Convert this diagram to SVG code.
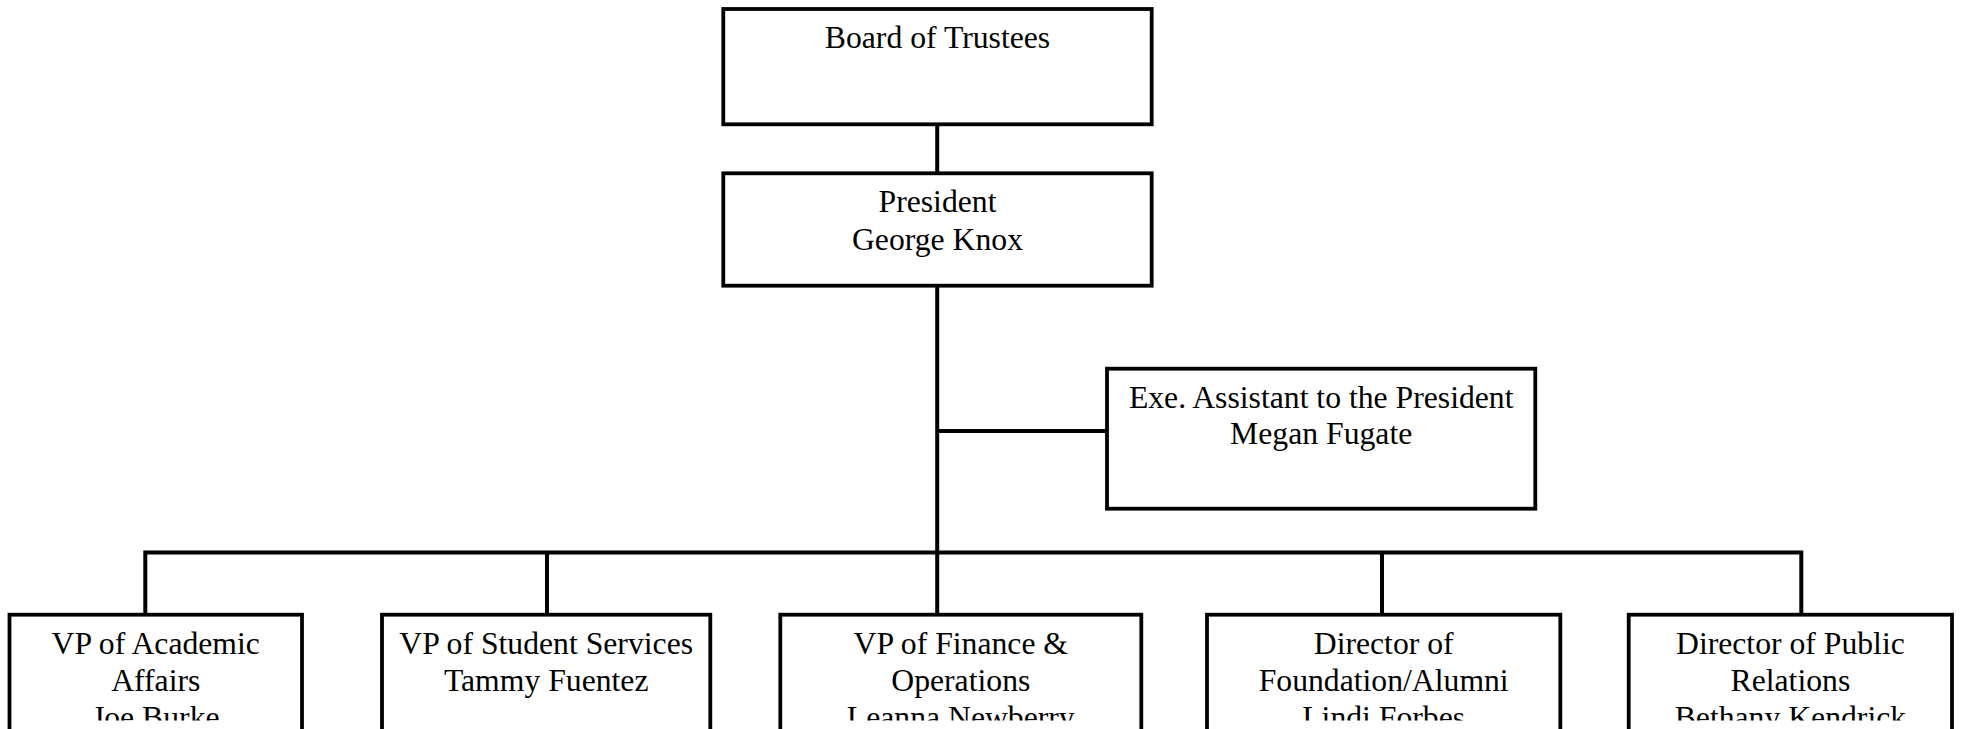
<svg xmlns="http://www.w3.org/2000/svg" width="1963" height="729" viewBox="0 0 1963 729">
<style>
.box{fill:#fff;stroke:#000;stroke-width:3.8}
.ln{fill:none;stroke:#000;stroke-width:4;stroke-linejoin:miter;stroke-linecap:butt}
text{font-family:"Liberation Serif","Times New Roman",serif;font-size:31.7px;fill:#000;text-anchor:middle}
</style>
<defs>
<clipPath id="cut"><rect x="0" y="0" width="1963" height="720.5"/></clipPath>
</defs>
<rect width="1963" height="729" fill="#fff"/>
<g id="connectors">
<path class="ln" d="M937.2,124.3 V173.3"/>
<path class="ln" d="M937.2,285.7 V552.5"/>
<path class="ln" d="M937.2,431 H1107"/>
<path class="ln" d="M145.3,614.7 V552.5 H1801.3 V614.7"/>
<path class="ln" d="M547,552.5 V614.7"/>
<path class="ln" d="M937.2,552.5 V614.7"/>
<path class="ln" d="M1382,552.5 V614.7"/>
</g>
<g id="board">
<rect class="box" x="723.3" y="9" width="428.4" height="115.3"/>
<text x="937.5" y="48.3">Board of Trustees</text>
</g>
<g id="president">
<rect class="box" x="723.3" y="173.3" width="428.4" height="112.4"/>
<text x="937.5" y="211.7">President</text>
<text x="937.5" y="250">George Knox</text>
</g>
<g id="assistant">
<rect class="box" x="1107" y="368.7" width="428.3" height="140"/>
<text x="1321.2" y="408.3">Exe. Assistant to the President</text>
<text x="1321.2" y="444.3">Megan Fugate</text>
</g>
<g id="vp-academic">
<rect class="box" x="9.5" y="614.7" width="292.5" height="150"/>
<g clip-path="url(#cut)">
<text x="155.75" y="653.5">VP of Academic</text>
<text x="155.75" y="690.5">Affairs</text>
<text x="155.75" y="727.5">Joe Burke</text>
</g>
</g>
<g id="vp-student">
<rect class="box" x="382" y="614.7" width="328.3" height="150"/>
<g clip-path="url(#cut)">
<text x="546.2" y="653.5">VP of Student Services</text>
<text x="546.2" y="690.5">Tammy Fuentez</text>
</g>
</g>
<g id="vp-finance">
<rect class="box" x="780.3" y="614.7" width="361" height="150"/>
<g clip-path="url(#cut)">
<text x="960.8" y="653.5">VP of Finance &amp;</text>
<text x="960.8" y="690.5">Operations</text>
<text x="960.8" y="727.5">Leanna Newberry</text>
</g>
</g>
<g id="dir-foundation">
<rect class="box" x="1207" y="614.7" width="353.3" height="150"/>
<g clip-path="url(#cut)">
<text x="1383.7" y="653.5">Director of</text>
<text x="1383.7" y="690.5">Foundation/Alumni</text>
<text x="1383.7" y="727.5">Lindi Forbes</text>
</g>
</g>
<g id="dir-pr">
<rect class="box" x="1628.7" y="614.7" width="323.3" height="150"/>
<g clip-path="url(#cut)">
<text x="1790.4" y="653.5">Director of Public</text>
<text x="1790.4" y="690.5">Relations</text>
<text x="1790.4" y="727.5">Bethany Kendrick</text>
</g>
</g>
</svg>
